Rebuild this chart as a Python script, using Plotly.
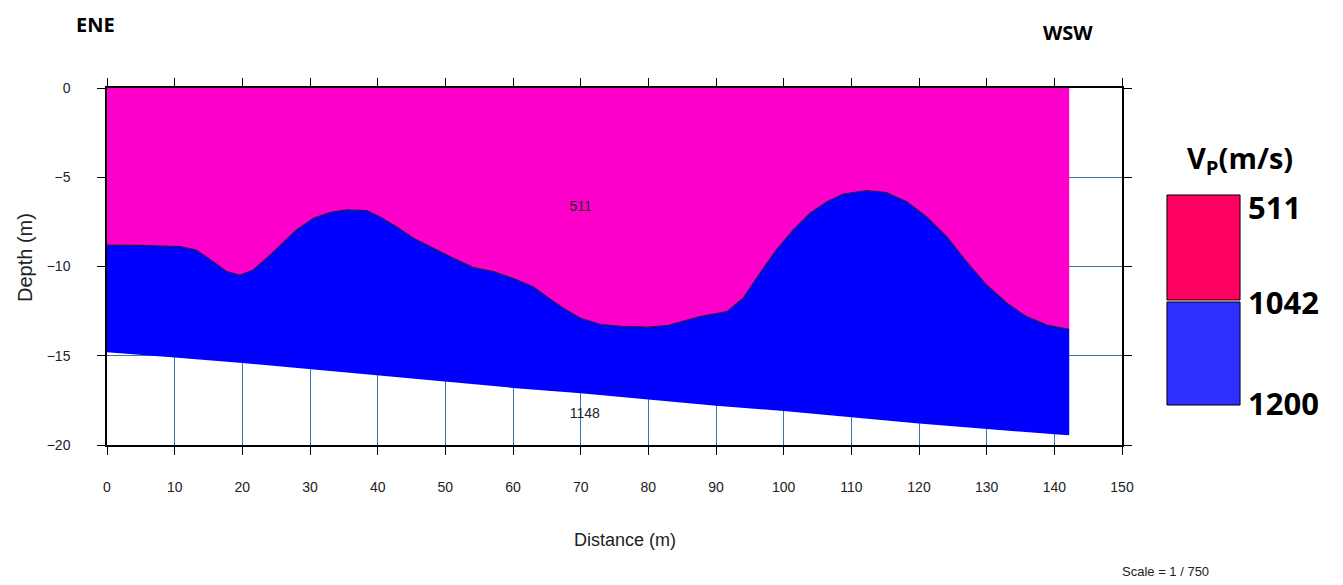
import plotly.graph_objects as go

# ---- data ----
interface_x = [0, 5, 10.8, 13.2, 15.7, 17.7, 19.65, 21.6, 23.6, 25.6, 28.0, 30.5, 33.0, 35.4,
               38.4, 40.3, 42.8, 45.3, 48.2, 51.2, 54.1, 57.1, 60.0, 63.0, 65.0, 67.5, 70,
               73, 76, 80, 83, 87.6, 91.6, 94.0, 96.5, 98.9, 101.4, 103.9, 106.4, 108.8,
               112.3, 115.2, 118.2, 121.1, 124.1, 127.0, 130.0, 133.0, 135.9, 138.9, 142.2]
interface_depth = [-8.8, -8.82, -8.89, -9.08, -9.73, -10.29, -10.48, -10.2, -9.54, -8.8,
                   -7.96, -7.3, -6.97, -6.83, -6.87, -7.21, -7.77, -8.42, -8.98, -9.54,
                   -10.05, -10.29, -10.66, -11.13, -11.69, -12.35, -12.9, -13.25, -13.35,
                   -13.4, -13.3, -12.81, -12.53, -11.78, -10.38, -9.08, -7.96, -7.02, -6.37,
                   -5.94, -5.75, -5.86, -6.37, -7.21, -8.33, -9.73, -11.04, -12.06, -12.81,
                   -13.28, -13.52]
bottom_x = [0, 10, 20, 30, 40, 50, 60, 70, 80, 90, 100, 110, 120, 130, 140, 142.2]
bottom_depth = [-14.8, -15.1, -15.4, -15.75, -16.1, -16.45, -16.8, -17.1, -17.45, -17.8,
                -18.1, -18.45, -18.8, -19.1, -19.4, -19.45]
layer_velocities = [511, 1148]
legend_values = ["511", "1042", "1200"]
x_ticks = list(range(0, 151, 10))
y_ticks = [0, -5, -10, -15, -20]

PINK = "#ff00cc"
BLUE = "#0000ff"
GRID = "#3b78a8"
TICKFONT = "Liberation Sans, Arial, sans-serif"
BOLDFONT = "Open Sans, Liberation Sans, Arial, sans-serif"

fig = go.Figure()

x_end = interface_x[-1]
# pink upper layer
fig.add_trace(go.Scatter(
    x=[0] + interface_x + [x_end],
    y=[0] + interface_depth + [0],
    fill="toself", fillcolor=PINK, mode="lines", line=dict(width=0),
    hoverinfo="skip", showlegend=False))

# blue lower layer
fig.add_trace(go.Scatter(
    x=interface_x + bottom_x[::-1],
    y=interface_depth + bottom_depth[::-1],
    fill="toself", fillcolor=BLUE, mode="lines", line=dict(width=0),
    hoverinfo="skip", showlegend=False))

# interface line
fig.add_trace(go.Scatter(
    x=interface_x, y=interface_depth, mode="lines",
    line=dict(color="#1c1c5a", width=1.2),
    hoverinfo="skip", showlegend=False))

# layer velocity labels
fig.add_trace(go.Scatter(
    x=[70, 70.6], y=[-6.7, -18.3], mode="text",
    text=[str(v) for v in layer_velocities],
    textfont=dict(family=TICKFONT, size=14, color="#222222"),
    hoverinfo="skip", showlegend=False))

fig.update_xaxes(
    range=[0, 150], tickvals=x_ticks, ticks="outside", ticklen=8, tickcolor="black",
    showline=True, linecolor="black", linewidth=1.5, mirror="ticks",
    showgrid=True, gridcolor=GRID, gridwidth=1, zeroline=False,
    tickfont=dict(family=TICKFONT, size=14, color="#222222"), ticklabelstandoff=20)
fig.update_yaxes(
    range=[-20, 0], tickvals=y_ticks, ticks="outside", ticklen=8, tickcolor="black",
    showline=True, linecolor="black", linewidth=1.5, mirror="ticks",
    showgrid=True, gridcolor=GRID, gridwidth=1, zeroline=False,
    tickfont=dict(family=TICKFONT, size=14, color="#222222"), ticklabelstandoff=24)

# legend boxes
fig.add_shape(type="rect", xref="paper", yref="paper", x0=1.0443, x1=1.1163, y0=0.4062, y1=0.7003,
              fillcolor="#ff0060", line=dict(color="black", width=1))
fig.add_shape(type="rect", xref="paper", yref="paper", x0=1.0443, x1=1.1163, y0=0.1120, y1=0.4006,
              fillcolor="#2e2eff", line=dict(color="black", width=1))

ann = []
ann.append(dict(text="<b>V<sub>P</sub>(m/s)</b>", x=1.1163, y=0.80, xref="paper", yref="paper",
                showarrow=False, font=dict(family=BOLDFONT, size=29, color="black"),
                xanchor="center", yanchor="middle"))
for lbl, yp in zip(legend_values, [0.6667, 0.4006, 0.1176]):
    ann.append(dict(text="<b>%s</b>" % lbl, x=1.1222, y=yp, xref="paper", yref="paper",
                    showarrow=False, font=dict(family=BOLDFONT, size=31, color="black"),
                    xanchor="left", yanchor="middle"))
ann.append(dict(text="<b>ENE</b>", x=-0.0118, y=1.1765, xref="paper", yref="paper", showarrow=False,
                font=dict(family=BOLDFONT, size=20, color="black"), xanchor="center", yanchor="middle"))
ann.append(dict(text="<b>WSW</b>", x=0.9468, y=1.1541, xref="paper", yref="paper", showarrow=False,
                font=dict(family=BOLDFONT, size=20, color="black"), xanchor="center", yanchor="middle"))
ann.append(dict(text="Distance (m)", x=0.5103, y=-0.2661, xref="paper", yref="paper", showarrow=False,
                font=dict(family=TICKFONT, size=18, color="#222222"), xanchor="center", yanchor="middle"))
ann.append(dict(text="Depth (m)", x=-0.0808, y=0.5266, xref="paper", yref="paper", showarrow=False,
                textangle=-90, font=dict(family=TICKFONT, size=20, color="#222222"),
                xanchor="center", yanchor="middle"))
ann.append(dict(text="Scale = 1 / 750", x=1.0424, y=-0.3557, xref="paper", yref="paper", showarrow=False,
                font=dict(family=TICKFONT, size=13, color="#222222"), xanchor="center", yanchor="middle"))

fig.update_layout(
    width=1343, height=585, autosize=False,
    margin=dict(l=107, r=221, t=88, b=140),
    paper_bgcolor="white", plot_bgcolor="white",
    annotations=ann, showlegend=False)

fig.write_html("out.html")
